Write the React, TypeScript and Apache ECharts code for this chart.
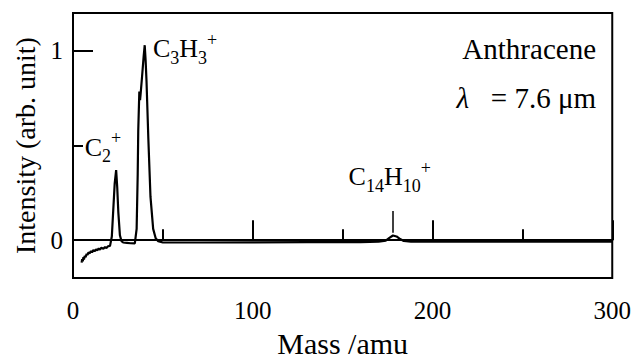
import React, { useEffect, useRef } from "react";
import * as echarts from "echarts";

// Mass spectrum (mass in amu, intensity in arb. unit)
const massValues: number[] = [
  4.8, 5.1, 5.4, 5.8, 6.1, 6.5, 7.0, 7.6, 8.1, 8.6, 9.2, 10.0, 10.6, 11.3, 12.0, 12.8, 13.5, 14.3, 15.0, 15.8, 16.9, 17.8, 18.6, 19.5, 20.6,
  21.6, 22.4, 23.2, 24.0, 24.6, 25.2, 26.1, 27.0, 27.9, 30.0, 32.0, 34.4, 35.4, 36.0, 36.3,
  36.9, 37.3, 37.6, 38.3, 39.3, 39.9, 40.4, 40.9, 41.9, 43.1, 44.6, 46.0, 47.4, 50.0,
  70, 100, 130, 160, 170, 174, 176, 178, 180, 182, 184, 188, 200, 230, 260, 300,
];
const intensityValues: number[] = [
  -0.118, -0.1, -0.112, -0.09, -0.102, -0.083, -0.09, -0.072, -0.078, -0.064, -0.07, -0.058, -0.064, -0.052, -0.058, -0.048, -0.053, -0.044, -0.049, -0.04, -0.045, -0.036, -0.041, -0.032, -0.03,
  0.02, 0.16, 0.3, 0.37, 0.28, 0.15, 0.026, -0.005, -0.012, -0.014, -0.016, -0.017, 0.06, 0.35, 0.58,
  0.785, 0.74, 0.77, 0.85, 0.97, 1.03, 0.95, 0.84, 0.54, 0.23, 0.06, 0.01, -0.005, -0.012,
  -0.012, -0.011, -0.01, -0.01, -0.008, -0.002, 0.012, 0.025, 0.02, 0.006, -0.004, -0.008, -0.008, -0.008, -0.008, -0.008,
];

const xTickValues: number[] = [0, 100, 200, 300];
const yLabelValues: number[] = [0, 1];
const yMinorTickValues: number[] = [0.5];

// Peak annotations: anchor of label's left-middle, in data units
const peakLabels = [
  { text: "{b|C}{s|2}{p|+}", mass: 6.5, intensity: 0.49 },
  { text: "{b|C}{s|3}{b|H}{s|3}{p|+}", mass: 44.5, intensity: 1.01 },
  { text: "{b|C}{s|14}{b|H}{s|10}{p|+}", mass: 153.3, intensity: 0.335 },
];
const markerSegment: [number, number, number] = [178, 0.04, 0.155];

const FONT = "Liberation Serif";

export default function App() {
  const ref = useRef<HTMLDivElement>(null);
  useEffect(() => {
    document.body.style.margin = "0";
    if (!ref.current) return;
    const chart = echarts.init(ref.current, undefined, { renderer: "svg" });
    const data = massValues.map((m, i) => [m, intensityValues[i]]);
    const rich = {
      b: { fontSize: 26, fontFamily: FONT, color: "#000", lineHeight: 36 },
      s: { fontSize: 18, fontFamily: FONT, color: "#000", lineHeight: 20, verticalAlign: "bottom" },
      p: { fontSize: 18, fontFamily: FONT, color: "#000", lineHeight: 10, verticalAlign: "top" },
    };
    chart.setOption({
      animation: false,
      grid: {
        left: 73,
        right: 21,
        top: 13,
        bottom: 79,
        show: true,
        borderColor: "#000",
        borderWidth: 2,
        backgroundColor: "transparent",
      },
      xAxis: {
        type: "value",
        min: 0,
        max: 300,
        interval: 100,
        name: "Mass /amu",
        nameLocation: "middle",
        nameGap: 40,
        nameTextStyle: { fontSize: 30, fontFamily: FONT, color: "#000" },
        axisLine: { show: true, lineStyle: { color: "#000", width: 2 } },
        axisTick: { show: true, inside: true, length: 20, lineStyle: { color: "#000", width: 2 } },
        minorTick: { show: true, splitNumber: 2, length: 11, lineStyle: { color: "#000", width: 2 } },
        axisLabel: {
          margin: 20,
          customValues: xTickValues,
          fontSize: 25,
          fontFamily: FONT,
          color: "#000",
        },
        splitLine: { show: false },
        minorSplitLine: { show: false },
      },
      yAxis: [
        {
          type: "value",
          min: -0.2,
          max: 1.2,
          name: "Intensity (arb. unit)",
          nameLocation: "middle",
          nameGap: 34,
          nameTextStyle: { fontSize: 28, fontFamily: FONT, color: "#000" },
          axisLine: { show: true, lineStyle: { color: "#000", width: 2 } },
          axisTick: {
            show: true,
            inside: true,
            length: 20,
            customValues: yLabelValues,
            lineStyle: { color: "#000", width: 2 },
          },
          axisLabel: {
            margin: 10,
            customValues: yLabelValues,
            fontSize: 25,
            fontFamily: FONT,
            color: "#000",
          },
          splitLine: { show: false },
        },
        {
          type: "value",
          min: -0.2,
          max: 1.2,
          position: "left",
          axisLine: { show: false },
          axisTick: {
            show: true,
            inside: true,
            length: 10,
            customValues: yMinorTickValues,
            lineStyle: { color: "#000", width: 2 },
          },
          axisLabel: { show: false },
          splitLine: { show: false },
        },
      ],
      series: [
        {
          type: "line",
          data,
          showSymbol: false,
          symbol: "none",
          lineStyle: { color: "#000", width: 2.2 },
          markLine: {
            silent: true,
            symbol: ["none", "none"],
            label: { show: false },
            lineStyle: { color: "#000", width: 1.5, type: "solid" },
            data: [
              [
                { coord: [markerSegment[0], markerSegment[1]] },
                { coord: [markerSegment[0], markerSegment[2]] },
              ],
            ],
          },
          markPoint: {
            silent: true,
            symbol: "circle",
            symbolSize: 0,
            data: peakLabels.map((p) => ({
              coord: [p.mass, p.intensity],
              label: {
                show: true,
                position: "right",
                distance: 0,
                formatter: p.text,
                rich,
              },
            })),
          },
        },
      ],
      graphic: [
        {
          type: "text",
          right: 38,
          top: 34,
          style: { text: "Anthracene", fontSize: 29, fontFamily: FONT, fill: "#000" },
        },
        {
          type: "text",
          right: 38,
          top: 83,
          style: {
            text: "{i|λ}{n|   = 7.6 μm}",
            fontSize: 29,
            fontFamily: FONT,
            fill: "#000",
            rich: {
              i: { fontSize: 29, fontFamily: FONT, fontStyle: "italic", fill: "#000" },
              n: { fontSize: 29, fontFamily: FONT, fill: "#000" },
            },
          },
        },
      ],
    });
    return () => chart.dispose();
  }, []);
  return <div ref={ref} style={{ width: 634, height: 363 }} />;
}
